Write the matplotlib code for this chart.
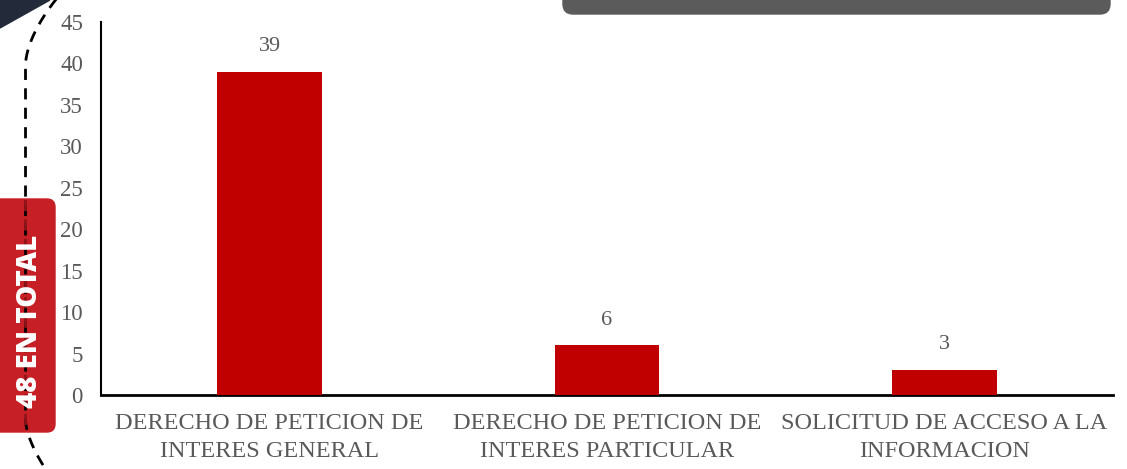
import matplotlib
matplotlib.use("Agg")
from matplotlib import pyplot as plt
from matplotlib.patches import FancyBboxPatch, Polygon
import numpy as np

categorias = ["DERECHO DE PETICION DE\nINTERES GENERAL",
              "DERECHO DE PETICION DE\nINTERES PARTICULAR",
              "SOLICITUD DE ACCESO A LA\nINFORMACION"]
valores = [39, 6, 3]
total_txt = "48 EN TOTAL"

W, H = 1127, 469
fig = plt.figure(figsize=(W / 100, H / 100), dpi=100)
ax = fig.add_axes([101 / W, 1 - 395 / H, (1113 - 101) / W, (395 - 22) / H])

x = np.arange(len(valores))
ax.bar(x, valores, width=0.31, color="#c00000", zorder=3)
for xi, v in zip(x, valores):
    ax.text(xi, v + 1.9, str(v), ha="center", va="bottom",
            fontsize=16, color="#595959", family="Liberation Serif")

ax.set_xlim(-0.5, 2.5)
ax.set_ylim(0, 45)
ax.set_yticks(range(0, 46, 5))
ax.set_xticks(x)
ax.set_xticklabels(categorias, family="Liberation Serif", fontsize=17.5,
                   color="#595959", linespacing=1.45)
ax.tick_params(axis="x", length=0, pad=13)
ax.tick_params(axis="y", length=0, pad=13)
for lab in ax.get_yticklabels():
    lab.set_family("Liberation Serif")
    lab.set_fontsize(16.5)
    lab.set_color("#595959")
for s in ["top", "right"]:
    ax.spines[s].set_visible(False)
ax.spines["left"].set_linewidth(1.5)
ax.spines["bottom"].set_linewidth(2)

# decoraciones en coordenadas de pixel
deco = fig.add_axes([0, 0, 1, 1], zorder=5)
deco.set_xlim(0, W)
deco.set_ylim(H, 0)
deco.axis("off")
deco.patch.set_alpha(0)

deco.add_patch(Polygon([[0, 0], [50, 0], [0, 28]], closed=True,
                       color="#232b3a"))
deco.add_patch(FancyBboxPatch((563, -20), 547, 34,
                              boxstyle="round,pad=0,rounding_size=10",
                              color="#5b5b5b"))
yy = np.linspace(-2, 472, 400)
xx = 25.5 + 30 * np.clip((65 - yy) / 65, 0, None) ** 1.7 \
    + 20 * np.clip((yy - 420) / 49, 0, None) ** 1.6
deco.plot(xx, yy, color="black", lw=2, linestyle=(0, (4, 3)))
deco.add_patch(FancyBboxPatch((-10, 199), 65, 233,
                              boxstyle="round,pad=0,rounding_size=8",
                              color="#c62026"))
inside = (yy > 199) & (yy < 432)
deco.plot(xx[inside], yy[inside], color="#8e1418", lw=2,
          linestyle=(0, (4, 3)))
deco.text(30, 321, total_txt, rotation=90, ha="center", va="center",
          color="white", fontsize=20, fontweight="heavy", family="Open Sans")

fig.savefig("out.png", dpi=100)
